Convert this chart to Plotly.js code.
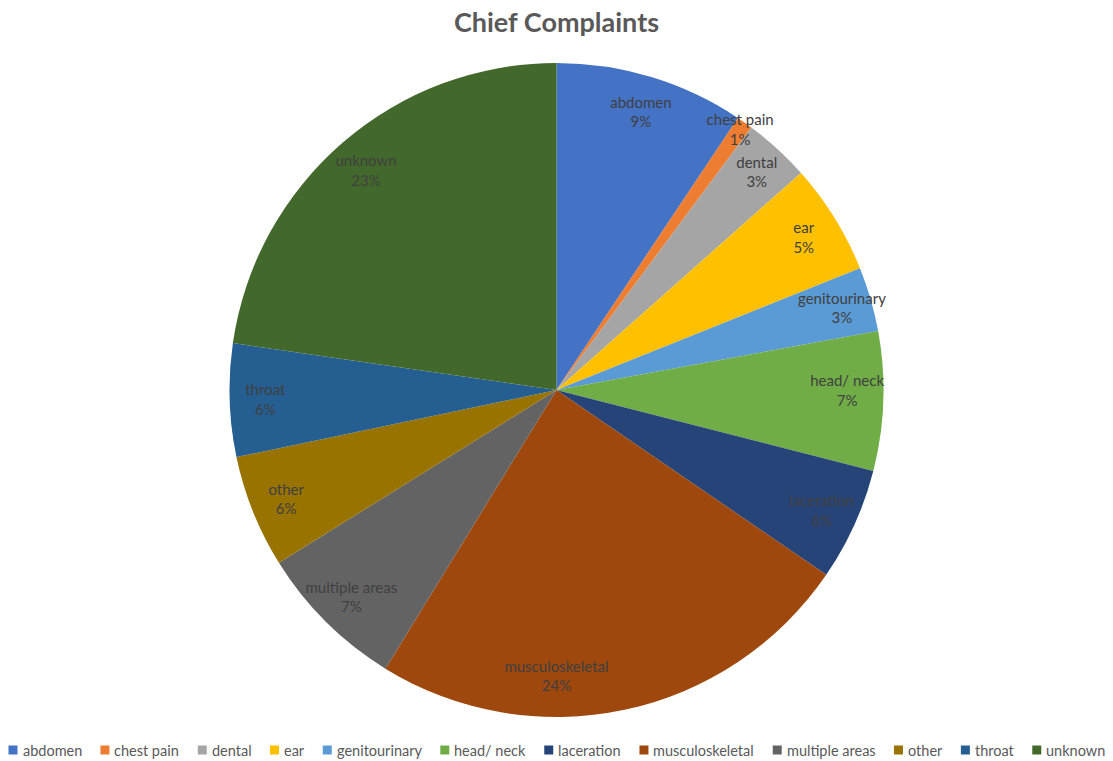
<!DOCTYPE html>
<html>
<head>
<meta charset="utf-8">
<script src="https://cdn.plot.ly/plotly-3.0.1.min.js"></script>
<style>html,body{margin:0;padding:0;background:#fff;}#chart{width:1113px;height:761px;}</style>
</head>
<body>
<div id="chart"></div>
<script>
const categories = ["abdomen","chest pain","dental","ear","genitourinary","head/ neck","laceration","musculoskeletal","multiple areas","other","throat","unknown"];
const shares = [9.4, 0.8, 3.3, 5.5, 3.2, 6.9, 5.6, 24.3, 7.4, 5.6, 5.6, 22.8];
const colors = ["#4472C4","#ED7D31","#A5A5A5","#FFC000","#5B9BD5","#70AD47","#264478","#9E480E","#636363","#997300","#255E91","#43682B"];
const FONT = "Lato, 'Open Sans', sans-serif";

const W = 1113, H = 761;
const M = {l: 0, r: 0, t: 63, b: 44};

const pieTrace = {
  type: "pie",
  labels: categories,
  values: shares,
  sort: false,
  direction: "clockwise",
  rotation: 0,
  marker: {colors: colors, line: {width: 0}},
  textinfo: "none",
  hoverinfo: "label+percent",
  showlegend: false
};

// transparent ring carrying the slice labels so they sit near the rim, as in the reference
const labelTrace = {
  type: "pie",
  labels: categories,
  values: shares,
  sort: false,
  direction: "clockwise",
  rotation: 0,
  hole: 0.78,
  showlegend: false,
  marker: {colors: categories.map(() => "rgba(0,0,0,0)"), line: {width: 0}},
  textposition: "inside",
  insidetextorientation: "horizontal",
  texttemplate: "%{label}<br>%{percent:.0%}",
  textfont: {family: FONT, size: 15, color: "#404040"},
  hoverinfo: "skip"
};

// single-row legend (Excel style): small square + label, laid out from measured text widths
const LEG_SIZE = 14.5, SQ = 9, SQ_GAP = 4, LEG_SPAN = 1096, LEG_Y_PX = 750;
const ctx = document.createElement("canvas").getContext("2d");
ctx.font = LEG_SIZE + "px Lato";
const tw = categories.map(c => ctx.measureText(c).width);
const itemsW = tw.reduce((a, w) => a + SQ + SQ_GAP + w, 0);
const gap = Math.max(8, (LEG_SPAN - itemsW) / (categories.length - 1));
const totalW = itemsW + gap * (categories.length - 1);
let xpx = (W - totalW) / 2;
const plotW = W - M.l - M.r, plotH = H - M.t - M.b;
const toPx = x => (x - M.l) / plotW;
const yPaper = (H - M.b - LEG_Y_PX) / plotH;
const ySq0 = (H - M.b - (LEG_Y_PX + SQ / 2)) / plotH, ySq1 = (H - M.b - (LEG_Y_PX - SQ / 2)) / plotH;
const shapes = [], annotations = [];
categories.forEach((c, i) => {
  shapes.push({type: "rect", xref: "paper", yref: "paper", x0: toPx(xpx), x1: toPx(xpx + SQ),
               y0: ySq0, y1: ySq1, fillcolor: colors[i], line: {width: 0}});
  annotations.push({xref: "paper", yref: "paper", x: toPx(xpx + SQ + SQ_GAP), y: yPaper,
                    xanchor: "left", yanchor: "middle", showarrow: false, text: c,
                    font: {family: FONT, size: LEG_SIZE, color: "#595959"}, borderpad: 0});
  xpx += SQ + SQ_GAP + tw[i] + gap;
});

const layout = {
  width: W, height: H,
  margin: Object.assign({autoexpand: false}, M),
  paper_bgcolor: "#fff",
  title: {text: "<b>Chief Complaints</b>", x: 0.5, xanchor: "center", y: 0.97, yanchor: "middle",
          font: {family: FONT, size: 27, color: "#595959"}},
  showlegend: false,
  shapes: shapes,
  annotations: annotations,
  uniformtext: {mode: "show", minsize: 15}
};

Plotly.newPlot("chart", [pieTrace, labelTrace], layout, {displayModeBar: false, staticPlot: true});
</script>
</body>
</html>
